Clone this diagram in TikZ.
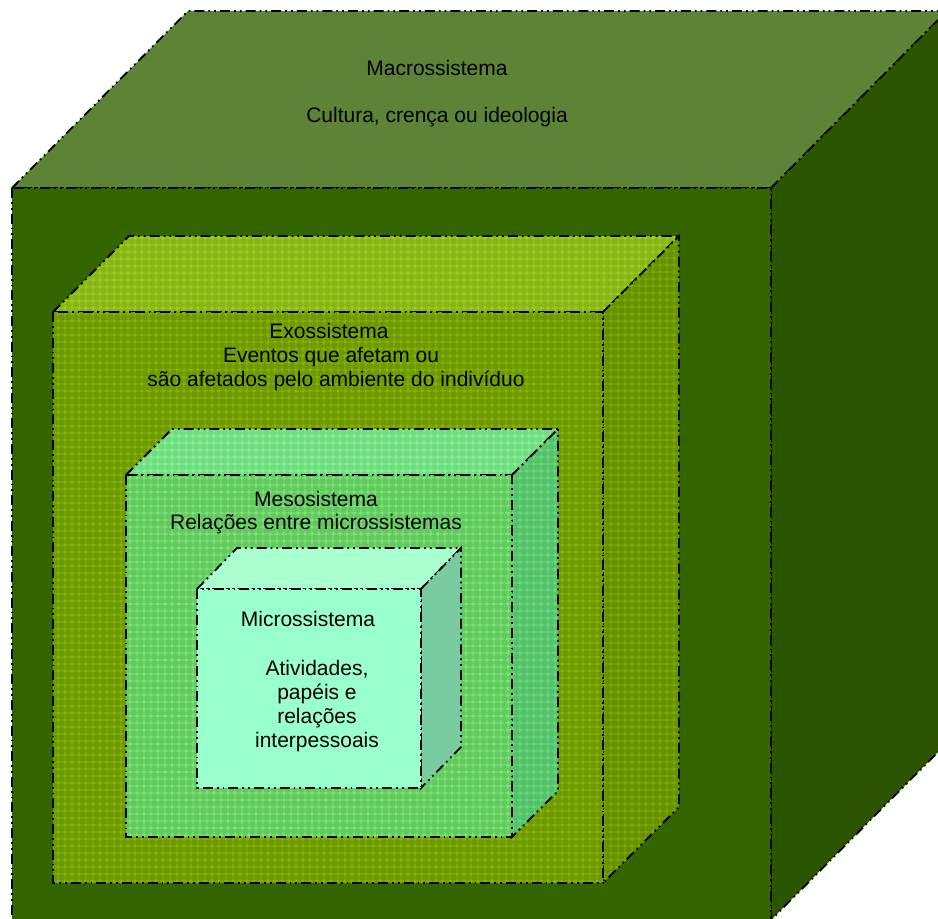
\documentclass[tikz,border=0pt]{standalone}
\usepackage{fontspec}
\setmainfont{Liberation Sans}
\usetikzlibrary{patterns.meta}
\definecolor{macroTop}{RGB}{93,131,55}
\definecolor{macroFront}{RGB}{51,102,0}
\definecolor{macroRight}{RGB}{43,85,0}
\definecolor{exoTopB}{RGB}{136,182,20}
\definecolor{exoTopG}{RGB}{168,215,55}
\definecolor{exoFrontB}{RGB}{110,153,0}
\definecolor{exoFrontG}{RGB}{145,195,15}
\definecolor{exoRightB}{RGB}{102,146,0}
\definecolor{exoRightG}{RGB}{135,185,15}
\definecolor{mesoTopB}{RGB}{112,222,128}
\definecolor{mesoTopG}{RGB}{155,248,165}
\definecolor{mesoFrontB}{RGB}{98,202,92}
\definecolor{mesoFrontG}{RGB}{145,240,145}
\definecolor{mesoRightB}{RGB}{84,194,104}
\definecolor{mesoRightG}{RGB}{125,225,145}
\definecolor{microTop}{RGB}{170,255,208}
\definecolor{microFront}{RGB}{153,255,204}
\definecolor{microRight}{RGB}{120,204,160}
\begin{document}
\begin{tikzpicture}[x=1pt,y=-1pt,
  edge/.style={line width=1.8pt, dash pattern=on 10pt off 4pt on 1.8pt off 4pt on 1.8pt off 4pt, line join=miter},
  gridfill/.style n args={2}{preaction={fill=#1}, pattern={Hatch[distance=6.5pt, line width=0.8pt]}, pattern color=#2},
  lbl/.style={anchor=base, inner sep=0pt, font=\fontsize{21}{24}\selectfont}]
\useasboundingbox (0,0) rectangle (938,919);
\clip (0,0) rectangle (938,919);
% Macrossistema
\draw[edge, fill=macroTop] (12,188) -- (188,11) -- (947,11) -- (771,188) -- cycle;
\draw[edge, fill=macroRight] (771,188) -- (947,11) -- (947,743) -- (771,920) -- cycle;
\draw[edge, fill=macroFront] (12,188) rectangle (771,920);
% Exossistema
\draw[edge, gridfill={exoTopB}{exoTopG}] (53,312) -- (129,236) -- (679,236) -- (603,312) -- cycle;
\draw[edge, gridfill={exoRightB}{exoRightG}] (603,312) -- (679,236) -- (679,807) -- (603,883) -- cycle;
\draw[edge, gridfill={exoFrontB}{exoFrontG}] (53,312) rectangle (603,883);
% Mesosistema
\draw[edge, gridfill={mesoTopB}{mesoTopG}] (126,475) -- (172,429) -- (558,429) -- (512,475) -- cycle;
\draw[edge, gridfill={mesoRightB}{mesoRightG}] (512,475) -- (558,429) -- (558,791) -- (512,837) -- cycle;
\draw[edge, gridfill={mesoFrontB}{mesoFrontG}] (126,475) rectangle (512,837);
% Microssistema
\draw[edge, fill=microTop] (197,589) -- (237,548) -- (461,548) -- (421,589) -- cycle;
\draw[edge, fill=microRight] (421,589) -- (461,548) -- (461,747) -- (421,788) -- cycle;
\draw[edge, fill=microFront] (197,589) rectangle (421,788);
% Texts
\node[lbl] (ma1) at (437,75) {Macrossistema};
\node[lbl] (ma2) at (437,122) {Cultura, crença ou ideologia};
\node[lbl] (ex1) at (329,338) {Exossistema};
\node[lbl] (ex2) at (331,362) {Eventos que afetam ou};
\node[lbl] (ex3) at (336,386) {são afetados pelo ambiente do indivíduo};
\node[lbl] (me1) at (316,506) {Mesosistema};
\node[lbl] (me2) at (316,529) {Relações entre microssistemas};
\node[lbl] (mi1) at (308,626) {Microssistema};
\node[lbl] (mi2) at (317,675) {Atividades,};
\node[lbl] (mi3) at (317,699) {papéis e};
\node[lbl] (mi4) at (317,723) {relações};
\node[lbl] (mi5) at (317,747) {interpessoais};
\end{tikzpicture}
\end{document}
